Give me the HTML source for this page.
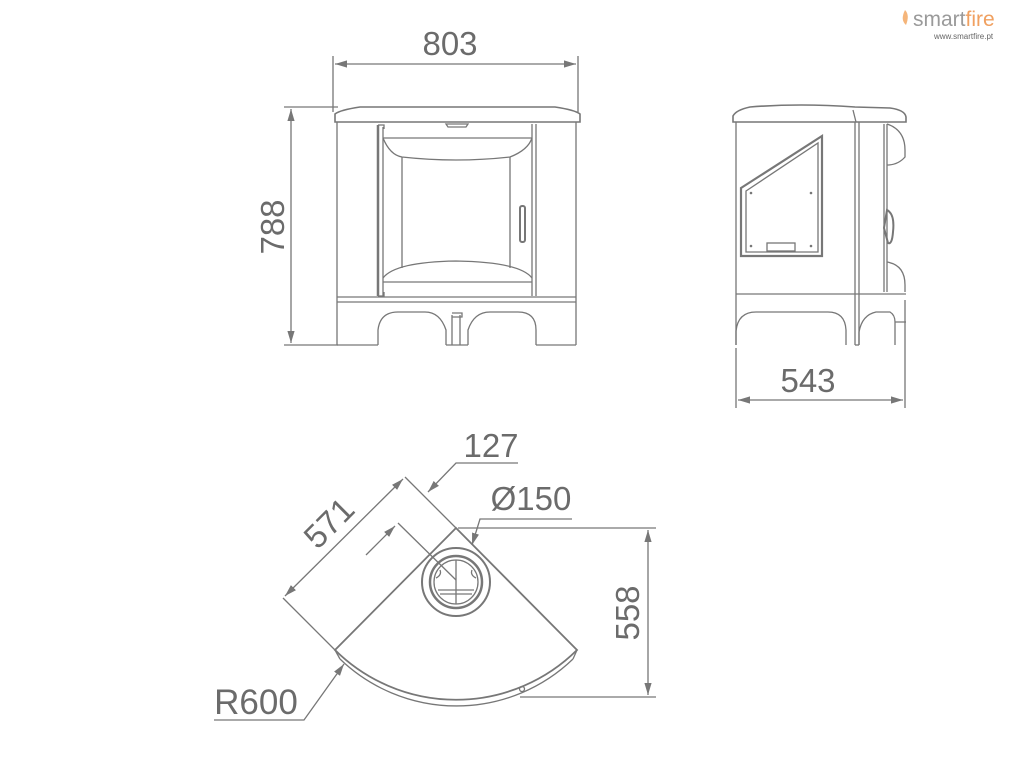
<!DOCTYPE html>
<html><head><meta charset="utf-8"><style>
html,body{margin:0;padding:0;background:#fff;width:1024px;height:768px;overflow:hidden}
svg{display:block}
text{font-family:"Liberation Sans",sans-serif;fill:#6b6b6b}
</style></head><body>
<svg width="1024" height="768" viewBox="0 0 1024 768" xmlns="http://www.w3.org/2000/svg">
<defs>
<marker id="a" viewBox="0 0 10 10" refX="10" refY="5" markerWidth="12" markerHeight="12" markerUnits="userSpaceOnUse" orient="auto-start-reverse"><path d="M0,2 L10,5 L0,8 Z" fill="#777"/></marker>
</defs>
<g stroke="#777" stroke-width="1.3" fill="none">
<!-- FRONT VIEW -->
<line x1="333" y1="56" x2="333" y2="112"/><line x1="578" y1="56" x2="578" y2="112"/>
<line x1="335" y1="64" x2="576" y2="64" marker-start="url(#a)" marker-end="url(#a)"/>
<line x1="284" y1="107" x2="338" y2="107"/><line x1="284" y1="345" x2="338" y2="345"/>
<line x1="291" y1="109" x2="291" y2="343" marker-start="url(#a)" marker-end="url(#a)"/>
<path d="M335,122 L335,114 Q340,110 360,107 L555,107 Q575,110 580,114 L580,122 Z" stroke-width="1.6"/>
<line x1="337" y1="122" x2="337" y2="345"/><line x1="576" y1="122" x2="576" y2="345"/>
<line x1="378" y1="125" x2="378" y2="296" stroke-width="2.5"/>
<path d="M378,125 h6 v4 M378,296 h6 v-4"/>
<line x1="383" y1="127" x2="383" y2="296"/>
<line x1="532" y1="124" x2="532" y2="296"/><line x1="536" y1="124" x2="536" y2="296"/>
<path d="M446,124 h22 l-2,3 h-18 Z"/>
<path d="M383,138 Q390,155 402,157 Q456,163 510,157 Q528,150 532,138"/>
<line x1="383" y1="138" x2="532" y2="138"/>
<path d="M402,157 L402,268 M510,157 L510,268"/>
<path d="M383,278 Q395,262 456,261 Q520,262 532,278"/>
<line x1="383" y1="282" x2="532" y2="282"/>
<rect x="520" y="206" width="5" height="36" rx="2" stroke-width="2"/>
<line x1="337" y1="297" x2="576" y2="297"/><line x1="337" y1="302" x2="576" y2="302"/>
<line x1="337" y1="345" x2="378" y2="345"/><line x1="536" y1="345" x2="576" y2="345"/>
<path d="M378,345 L378,330 Q380,312 398,312 L425,312 Q440,312 446,330 L446,345"/>
<path d="M468,345 L468,330 Q474,312 490,312 L518,312 Q536,312 536,330 L536,345"/>
<path d="M452,345 V315 M460,345 V315 M452,313 h10 v4 h-10"/>
<line x1="446" y1="345" x2="468" y2="345"/>
<!-- SIDE VIEW -->
<path d="M733,122 L733,116 Q736,110 750,107 Q800,103 855,107 L890,108 Q905,110 906,117 L906,122 Z" stroke-width="1.6"/>
<line x1="853" y1="110" x2="856" y2="122"/>
<line x1="736" y1="122" x2="736" y2="345"/><line x1="855" y1="122" x2="855" y2="345"/><line x1="859" y1="122" x2="859" y2="345"/>
<line x1="736" y1="294" x2="906" y2="294"/>
<path d="M884,124 V292 M887,124 V292"/>
<path d="M887,124 Q905,130 905,150 V157 Q898,165 887,165"/>
<path d="M887,262 Q905,265 905,285 V292"/>
<path d="M741,188 L822,136 L822,256 L741,256 Z" stroke-width="2.2"/>
<path d="M746,191 L818,143 L818,252 L746,252 Z"/>
<rect x="767" y="243" width="28" height="8"/>
<g fill="#777" stroke="none"><circle cx="751" cy="193" r="1.3"/><circle cx="811" cy="193" r="1.3"/><circle cx="751" cy="246" r="1.3"/><circle cx="811" cy="246" r="1.3"/></g>
<path d="M887,210 Q895,214 893,232 Q892,245 888,243 L884,228 Z" stroke-width="2"/>
<path d="M736,345 V331 Q738,312 756,312 L828,312 Q845,312 846,330 V345"/>
<path d="M859,345 V332 Q862,315 876,312 L890,312 Q895,315 895,322 L906,322 M895,322 V345"/>
<line x1="855" y1="345" x2="859" y2="345"/>
<line x1="736" y1="348" x2="736" y2="408"/><line x1="905" y1="300" x2="905" y2="408"/>
<line x1="738" y1="400" x2="903" y2="400" marker-start="url(#a)" marker-end="url(#a)"/>
<!-- PLAN VIEW -->
<path d="M456,528 L335,650 A172,172 0 0,0 577,650 Z" stroke-width="1.8"/>
<path d="M340,659 A168,168 0 0,0 573,659" />
<line x1="335" y1="650" x2="340" y2="659"/><line x1="577" y1="650" x2="573" y2="659"/>
<line x1="405" y1="477" x2="456" y2="528"/><line x1="283" y1="598" x2="335" y2="650"/>
<line x1="285" y1="596" x2="403" y2="479" marker-start="url(#a)" marker-end="url(#a)"/>
<line x1="398" y1="523" x2="456" y2="580"/>
<line x1="366" y1="555" x2="395" y2="526" marker-end="url(#a)"/>
<path d="M518,463 L456,463 L428,492" marker-end="url(#a)"/>
<circle cx="456" cy="582" r="34" stroke-width="2"/>
<circle cx="456" cy="582" r="26" stroke-width="2.5"/>
<circle cx="456" cy="582" r="22"/>
<path d="M436,578 Q442,575 440,570 M476,578 Q470,575 472,570 M438,590 h36 M440,594 h32 M456,560 V604"/>
<path d="M572,519 L480,519 L472,545" marker-end="url(#a)"/>
<line x1="458" y1="528" x2="656" y2="528"/><line x1="520" y1="697" x2="656" y2="697"/>
<line x1="648" y1="530" x2="648" y2="695" marker-start="url(#a)" marker-end="url(#a)"/>
<path d="M214,720 L304,720 L344,664" marker-end="url(#a)"/>
<circle cx="522" cy="689" r="2.5"/>
</g>
<text x="450" y="55" font-size="33" text-anchor="middle">803</text>
<text transform="translate(284,227) rotate(-90)" font-size="33" text-anchor="middle">788</text>
<text x="808" y="392" font-size="33" text-anchor="middle">543</text>
<text x="491" y="457" font-size="33" text-anchor="middle">127</text>
<text x="531" y="510" font-size="33" text-anchor="middle">Ø150</text>
<text transform="translate(639,613) rotate(-90)" font-size="33" text-anchor="middle">558</text>
<text transform="translate(337,531) rotate(-45)" font-size="33" text-anchor="middle">571</text>
<text x="256" y="714" font-size="35" text-anchor="middle">R600</text>
<text x="913" y="26" font-size="21" style="fill:#9a9a9a">smart<tspan style="fill:#f0a060">fire</tspan></text>
<path d="M905,10 Q910,15 906,25 Q900,20 905,10 Z" fill="#f5b57a"/>
<text x="934" y="39" font-size="8" style="fill:#666">www.smartfire.pt</text>
</svg>
</body></html>
